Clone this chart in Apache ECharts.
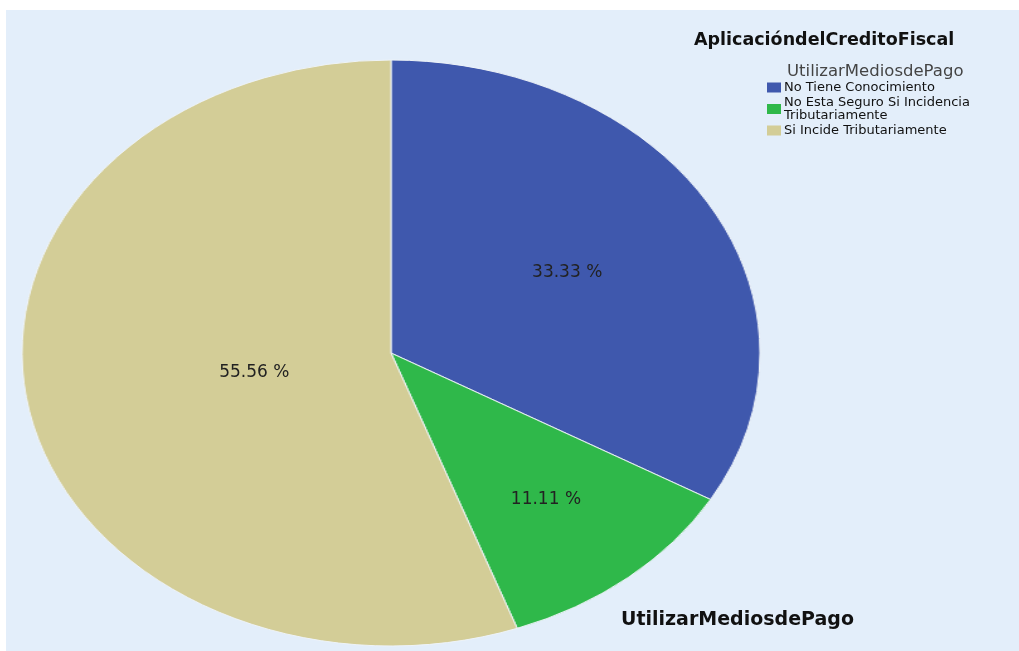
<!DOCTYPE html>
<html>
<head>
<meta charset="utf-8">
<script src="https://cdn.jsdelivr.net/npm/echarts@6/dist/echarts.min.js"></script>
<style>
    body{margin:0;background:#fff;}
    #bg{position:absolute;left:6px;top:10px;width:1013px;height:641px;background:#e3eefa;}
    #pie,#front{position:absolute;left:0;top:0;width:1019px;height:651px;}
</style>
</head>
<body>
<div id="bg"></div>
<div id="pie"></div>
<div id="front"></div>
<script>
    // datos
    var categories = ['No Tiene Conocimiento', 'No Esta Seguro Si Incidencia Tributariamente', 'Si Incide Tributariamente'];
    var values = [3, 1, 5];
    var colors = ['#3f58ad', '#2fb84a', '#d3cd97'];

    var cx = 391, cy = 353, ry = 293, rx = 369;
    var stretch = rx / ry;
    var font = 'DejaVu Sans';

    var pieData = [];
    var total = 0;
    for (var i = 0; i < categories.length; i++) {
        pieData.push({name: categories[i], value: values[i]});
        total += values[i];
    }

    // el pie se estira en horizontal para que salga eliptico
    var pieDiv = document.getElementById('pie');
    pieDiv.style.transformOrigin = cx + 'px ' + cy + 'px';
    pieDiv.style.transform = 'scaleX(' + stretch + ')';

    var pieChart = echarts.init(pieDiv);
    pieChart.setOption({
        animation: false,
        color: colors,
        series: [{
            type: 'pie',
            silent: true,
            center: [cx, cy],
            radius: ry,
            startAngle: 90,
            label: {show: false},
            labelLine: {show: false},
            itemStyle: {borderColor: '#eef3f8', borderWidth: 1},
            data: pieData
        }]
    });

    var legendData = [];
    for (var j = 0; j < categories.length; j++) {
        legendData.push({name: categories[j], itemStyle: {color: colors[j], opacity: 1, borderWidth: 0}});
    }

    // etiqueta en el centroide del sector (ya estirado)
    function centroidLayout(params) {
        var before = 0;
        for (var k = 0; k < params.dataIndex; k++) before += values[k];
        var half = values[params.dataIndex] / total * Math.PI;
        var mid = before / total * 2 * Math.PI + half;
        var dist = ry * 2 / 3 * Math.sin(half) / half;
        return {
            x: cx + dist * Math.sin(mid) * stretch,
            y: cy - dist * Math.cos(mid)
        };
    }

    // capa de arriba: textos, leyenda y etiquetas (sin estirar)
    var front = echarts.init(document.getElementById('front'));
    front.setOption({
        animation: false,
        color: ['rgba(0,0,0,0)', 'rgba(0,0,0,0)', 'rgba(0,0,0,0)'],
        title: [{
            text: 'AplicacióndelCreditoFiscal',
            left: 694, top: 31, padding: 0,
            textStyle: {fontFamily: font, fontSize: 17.5, fontWeight: 'bold', color: '#111'}
        }, {
            text: 'UtilizarMediosdePago',
            left: 787, top: 63, padding: 0,
            textStyle: {fontFamily: font, fontSize: 16.5, fontWeight: 'normal', color: '#444'}
        }, {
            text: 'UtilizarMediosdePago',
            left: 621, top: 611, padding: 0,
            textStyle: {fontFamily: font, fontSize: 19, fontWeight: 'bold', color: '#111'}
        }],
        legend: {
            orient: 'vertical',
            left: 767, top: 81, padding: 0,
            itemWidth: 14, itemHeight: 10, itemGap: 2,
            icon: 'rect',
            selectedMode: false,
            data: legendData,
            textStyle: {fontFamily: font, fontSize: 13, color: '#111', lineHeight: 13, width: 215, overflow: 'break', padding: [0, 0, 0, -2]}
        },
        series: [{
            type: 'pie',
            silent: true,
            center: [cx, cy],
            radius: ry,
            startAngle: 90,
            label: {
                show: true,
                position: 'inside',
                formatter: '{d} %',
                fontFamily: font,
                fontSize: 17,
                color: '#222'
            },
            labelLine: {show: false},
            labelLayout: centroidLayout,
            data: pieData
        }]
    });
</script>
</body>
</html>
